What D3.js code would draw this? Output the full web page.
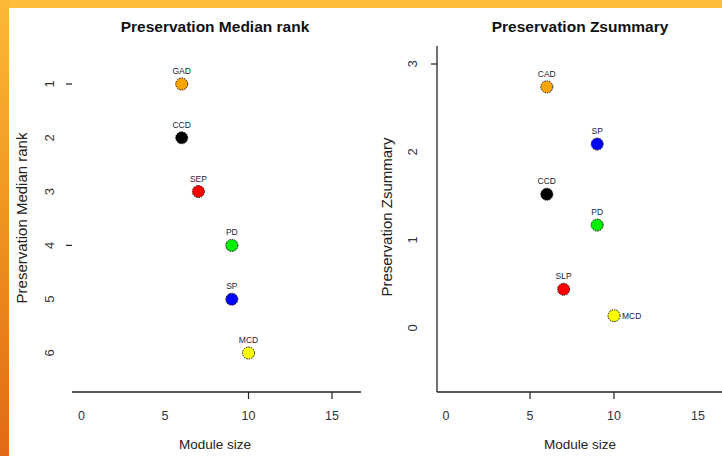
<!DOCTYPE html>
<html>
<head>
<meta charset="utf-8">
<script src="https://cdn.jsdelivr.net/npm/d3@7"></script>
<style>
  body { margin: 0; background: #fff; }
  svg { display: block; font-family: "Liberation Sans", Arial, sans-serif; }
</style>
</head>
<body>
<svg id="chart" width="722" height="456"></svg>
<script>
// left panel: median rank
const leftModules = ["GAD", "CCD", "SEP", "PD", "SP", "MCD"];
const leftSize = [6, 6, 7, 9, 9, 10];
const leftRank = [1, 2, 3, 4, 5, 6];
const leftColors = ["orange", "black", "red", "#00ee00", "blue", "yellow"];

// right panel: Zsummary
const rightModules = ["CAD", "SP", "CCD", "PD", "SLP", "MCD"];
const rightSize = [6, 9, 6, 9, 7, 10];
const rightZ = [2.74, 2.09, 1.52, 1.17, 0.44, 0.14];
const rightColors = ["orange", "blue", "black", "#00ee00", "red", "yellow"];

const xTicks = [0, 5, 10, 15];
const rankTicks = [1, 2, 3, 4, 5, 6];
const zTicks = [0, 1, 2, 3];

const svg = d3.select("#chart");

// orange frame bits
const grad = svg.append("defs").append("linearGradient")
    .attr("id", "edge").attr("x1", 0).attr("y1", 0).attr("x2", 0).attr("y2", 1);
grad.append("stop").attr("offset", "0%").attr("stop-color", "#fcb935");
grad.append("stop").attr("offset", "50%").attr("stop-color", "#f0921f");
grad.append("stop").attr("offset", "100%").attr("stop-color", "#e06a16");
svg.append("rect").attr("x", 0).attr("y", 0).attr("width", 722).attr("height", 8).attr("fill", "#fdbe3a");
svg.append("rect").attr("x", 0).attr("y", 0).attr("width", 9).attr("height", 456).attr("fill", "url(#edge)");

function panel(cfg) {
    const g = svg.append("g");
    const x = d3.scaleLinear().domain([0, 15]).range(cfg.xRange);
    const y = d3.scaleLinear().domain(cfg.yDomain).range(cfg.yRange);

    // x axis
    g.append("line").attr("x1", cfg.axisLeft).attr("x2", cfg.axisRight)
        .attr("y1", 392).attr("y2", 392).attr("stroke", "#222").attr("stroke-width", 1.3);
    g.selectAll(".xt").data(cfg.xTickShown).enter().append("line")
        .attr("x1", d => x(d)).attr("x2", d => x(d)).attr("y1", 392).attr("y2", 399)
        .attr("stroke", "#222").attr("stroke-width", 1.2);
    g.selectAll(".xl").data(xTicks).enter().append("text")
        .attr("x", d => x(d)).attr("y", 420).attr("text-anchor", "middle")
        .attr("font-size", 12.5).attr("fill", "#333").text(d => d);

    // y axis
    if (cfg.yLine) {
        g.append("line").attr("x1", cfg.axisLeft).attr("x2", cfg.axisLeft)
            .attr("y1", 46).attr("y2", 392).attr("stroke", "#222").attr("stroke-width", 1.3);
    }
    g.selectAll(".yt").data(cfg.yTickShown).enter().append("line")
        .attr("x1", cfg.axisLeft - 6).attr("x2", cfg.axisLeft).attr("y1", d => y(d)).attr("y2", d => y(d))
        .attr("stroke", "#222").attr("stroke-width", 1.2);
    g.selectAll(".yl").data(cfg.yTicks).enter().append("text")
        .attr("transform", d => `translate(${cfg.yLabelX},${y(d)}) rotate(-90)`)
        .attr("text-anchor", "middle").attr("font-size", 13).attr("fill", "#333").text(d => d);

    // titles
    g.append("text").attr("x", cfg.titleX).attr("y", 32).attr("text-anchor", "middle")
        .attr("font-size", 15.5).attr("font-weight", "bold").attr("fill", "#111").text(cfg.title);
    g.append("text").attr("x", cfg.titleX).attr("y", 449).attr("text-anchor", "middle")
        .attr("font-size", 13.5).attr("fill", "#222").text("Module size");
    g.append("text").attr("transform", `translate(${cfg.yTitleX},${cfg.yTitleY}) rotate(-90)`)
        .attr("text-anchor", "middle").attr("font-size", 15).attr("fill", "#222").text(cfg.yTitle);

    // points
    const pts = cfg.names.map((n, i) => ({ n, sx: cfg.sizes[i], v: cfg.values[i], c: cfg.colors[i] }));
    g.selectAll(".pt").data(pts).enter().append("circle")
        .attr("cx", d => x(d.sx)).attr("cy", d => y(d.v)).attr("r", 6)
        .attr("fill", d => d.c).attr("stroke", "#111").attr("stroke-width", 1)
        .attr("stroke-dasharray", "1.5,1");
    g.selectAll(".lb").data(pts).enter().append("text")
        .attr("x", d => d.n === cfg.sideLabel ? x(d.sx) + 8 : x(d.sx))
        .attr("y", d => d.n === cfg.sideLabel ? y(d.v) + 3 : y(d.v) - 10)
        .attr("text-anchor", d => d.n === cfg.sideLabel ? "start" : "middle")
        .attr("font-size", 8.5).attr("fill", "#223").text(d => d.n);
}

panel({
    names: leftModules, sizes: leftSize, values: leftRank, colors: leftColors,
    xRange: [81.5, 332], yDomain: [1, 6], yRange: [84, 353],
    axisLeft: 72, axisRight: 361, yLine: false,
    xTickShown: [10, 15], yTickShown: [1, 4], yTicks: rankTicks, yLabelX: 54,
    title: "Preservation Median rank", titleX: 215,
    yTitle: "Preservation Median rank", yTitleX: 27, yTitleY: 218, sideLabel: null
});

panel({
    names: rightModules, sizes: rightSize, values: rightZ, colors: rightColors,
    xRange: [446, 698], yDomain: [0, 3], yRange: [328, 64],
    axisLeft: 437, axisRight: 722, yLine: true,
    xTickShown: [5, 10], yTickShown: [3], yTicks: zTicks, yLabelX: 417,
    title: "Preservation Zsummary", titleX: 580,
    yTitle: "Preservation Zsummary", yTitleX: 392, yTitleY: 217, sideLabel: "MCD"
});
</script>
</body>
</html>
